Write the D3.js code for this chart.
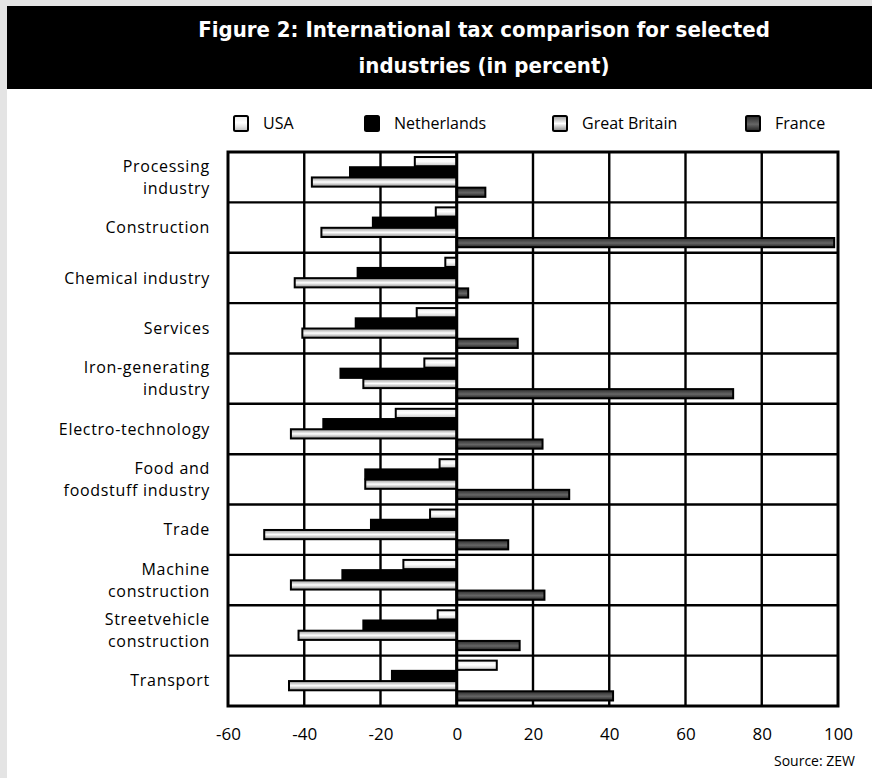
<!DOCTYPE html>
<html>
<head>
<meta charset="utf-8">
<script src="https://cdn.jsdelivr.net/npm/d3@7"></script>
<style>
  body { margin: 0; background: #e4e4e4; }
  svg { display: block; }
</style>
</head>
<body>
<svg id="chart" width="872" height="778"></svg>
<script>
// Chart data
var categories = [
    "Processing industry", "Construction", "Chemical industry", "Services",
    "Iron-generating industry", "Electro-technology", "Food and foodstuff industry",
    "Trade", "Machine construction", "Streetvehicle construction", "Transport"
];
// labels split onto lines as in the source
var categoryLines = [
    ["Processing", "industry"], ["Construction"], ["Chemical industry"], ["Services"],
    ["Iron-generating", "industry"], ["Electro-technology"], ["Food and", "foodstuff industry"],
    ["Trade"], ["Machine", "construction"], ["Streetvehicle", "construction"], ["Transport"]
];
var seriesNames = ["USA", "Netherlands", "Great Britain", "France"];
var usa         = [-11, -5.5, -3, -10.5, -8.5, -16, -4.5, -7, -14, -5, 10.5];
var netherlands = [-28, -22, -26, -26.5, -30.5, -35, -24, -22.5, -30, -24.5, -17];
var greatBritain = [-38, -35.5, -42.5, -40.5, -24.5, -43.5, -24, -50.5, -43.5, -41.5, -44];
var france      = [7.5, 99, 3, 16, 72.5, 22.5, 29.5, 13.5, 23, 16.5, 41];
var tickValues = [-60, -40, -20, 0, 20, 40, 60, 80, 100];

var seriesValues = [usa, netherlands, greatBritain, france];

var svg = d3.select("#chart"),
    width = +svg.attr("width"),
    height = +svg.attr("height");

var labelFont = "'Open Sans', sans-serif";

// page background + white panel + black title band
svg.append("rect").attr("width", width).attr("height", height).attr("fill", "#e4e4e4");
svg.append("rect").attr("x", 7).attr("y", 6).attr("width", width - 7).attr("height", height - 6).attr("fill", "#fff");
svg.append("rect").attr("x", 7).attr("y", 6).attr("width", width - 7).attr("height", 83).attr("fill", "#000");

var title = svg.append("text")
    .attr("text-anchor", "middle")
    .attr("fill", "#fff")
    .attr("font-family", "'DejaVu Sans Condensed', 'DejaVu Sans', sans-serif")
    .attr("font-weight", "bold")
    .attr("font-size", "22px");
title.append("tspan").attr("x", 484).attr("y", 37).text("Figure 2: International tax comparison for selected");
title.append("tspan").attr("x", 484).attr("y", 73).text("industries (in percent)");

// gradients for the bar fills
var defs = svg.append("defs");
var fills = [
    { id: "g-usa", stops: [[0, "#e8e8e8"], [0.45, "#ffffff"], [0.7, "#e6e6e6"], [1, "#bdbdbd"]] },
    { id: "g-nl", stops: [[0, "#000"], [1, "#000"]] },
    { id: "g-gb", stops: [[0, "#9a9a9a"], [0.3, "#d4d4d4"], [0.5, "#ffffff"], [0.7, "#d0d0d0"], [1, "#8a8a8a"]] },
    { id: "g-fr", stops: [[0, "#2a2a2a"], [0.4, "#555"], [0.55, "#666"], [1, "#222"]] }
];
fills.forEach(function (f) {
    var g = defs.append("linearGradient").attr("id", f.id)
        .attr("x1", 0).attr("y1", 0).attr("x2", 0).attr("y2", 1);
    f.stops.forEach(function (s) {
        g.append("stop").attr("offset", s[0]).attr("stop-color", s[1]);
    });
});

var margin = { top: 152, right: 34, bottom: 72, left: 228 };
var plotW = width - margin.left - margin.right,
    plotH = height - margin.top - margin.bottom;

var x = d3.scaleLinear().domain([-60, 100]).range([margin.left, margin.left + plotW]);
var y0 = d3.scaleBand().domain(categories).range([margin.top, margin.top + plotH]);
var y1 = d3.scaleBand().domain(seriesNames).range([5, y0.bandwidth() - 4.5]);

// grid
var grid = svg.append("g").attr("stroke", "#000").attr("stroke-width", 2.4);
grid.selectAll(".vline")
    .data(tickValues.slice(1, -1))
    .enter().append("line")
    .attr("x1", function (d) { return x(d); })
    .attr("x2", function (d) { return x(d); })
    .attr("y1", margin.top).attr("y2", margin.top + plotH);
grid.selectAll(".hline")
    .data(categories.slice(1))
    .enter().append("line")
    .attr("x1", margin.left).attr("x2", margin.left + plotW)
    .attr("y1", function (d) { return y0(d); })
    .attr("y2", function (d) { return y0(d); });

// bars
var rows = [];
categories.forEach(function (c, i) {
    seriesNames.forEach(function (s, j) {
        rows.push({ cat: c, series: s, j: j, value: seriesValues[j][i] });
    });
});

svg.append("g").selectAll("rect")
    .data(rows)
    .enter().append("rect")
    .attr("x", function (d) { return Math.min(x(0), x(d.value)); })
    .attr("y", function (d) { return y0(d.cat) + y1(d.series); })
    .attr("width", function (d) { return Math.abs(x(d.value) - x(0)); })
    .attr("height", y1.bandwidth() - 1)
    .attr("fill", function (d) { return "url(#" + fills[d.j].id + ")"; })
    .attr("stroke", "#000")
    .attr("stroke-width", 2);

// zero line and frame on top
svg.append("line")
    .attr("x1", x(0)).attr("x2", x(0))
    .attr("y1", margin.top).attr("y2", margin.top + plotH)
    .attr("stroke", "#000").attr("stroke-width", 3);
svg.append("rect")
    .attr("x", margin.left).attr("y", margin.top)
    .attr("width", plotW).attr("height", plotH)
    .attr("fill", "none").attr("stroke", "#000").attr("stroke-width", 3);

// category labels
var labels = svg.append("g")
    .attr("font-family", labelFont)
    .attr("font-size", "16px")
    .attr("letter-spacing", "0.7px")
    .attr("fill", "#000")
    .attr("text-anchor", "end");
categories.forEach(function (c, i) {
    var lines = categoryLines[i];
    var cy = y0(c) + y0.bandwidth() / 2;
    var t = labels.append("text");
    lines.forEach(function (ln, k) {
        t.append("tspan")
            .attr("x", 210)
            .attr("y", cy + (k - (lines.length - 1) / 2) * 22)
            .attr("dy", "0.35em")
            .text(ln);
    });
});

// x axis labels
var axis = svg.append("g")
    .attr("transform", "translate(0," + (margin.top + plotH) + ")")
    .call(d3.axisBottom(x).tickValues(tickValues).tickSize(0).tickPadding(22)
        .tickFormat(function (d) { return String(d); }));
axis.select(".domain").remove();
axis.selectAll("text")
    .attr("font-family", labelFont)
    .attr("font-size", "17px")
    .attr("fill", "#000");

// legend
var legendX = [233, 364, 552, 745];
var legend = svg.append("g");
seriesNames.forEach(function (s, j) {
    legend.append("rect")
        .attr("x", legendX[j] + 1).attr("y", 116)
        .attr("width", 14).attr("height", 15)
        .attr("rx", 1.5)
        .attr("fill", "url(#" + fills[j].id + ")")
        .attr("stroke", "#000").attr("stroke-width", 2);
    legend.append("text")
        .attr("x", legendX[j] + 30).attr("y", 129)
        .attr("font-family", labelFont)
        .attr("font-size", "16px")
        .text(s);
});

svg.append("text")
    .attr("x", 855).attr("y", 766)
    .attr("text-anchor", "end")
    .attr("font-family", labelFont)
    .attr("font-size", "14px")
    .text("Source: ZEW");
</script>
</body>
</html>
